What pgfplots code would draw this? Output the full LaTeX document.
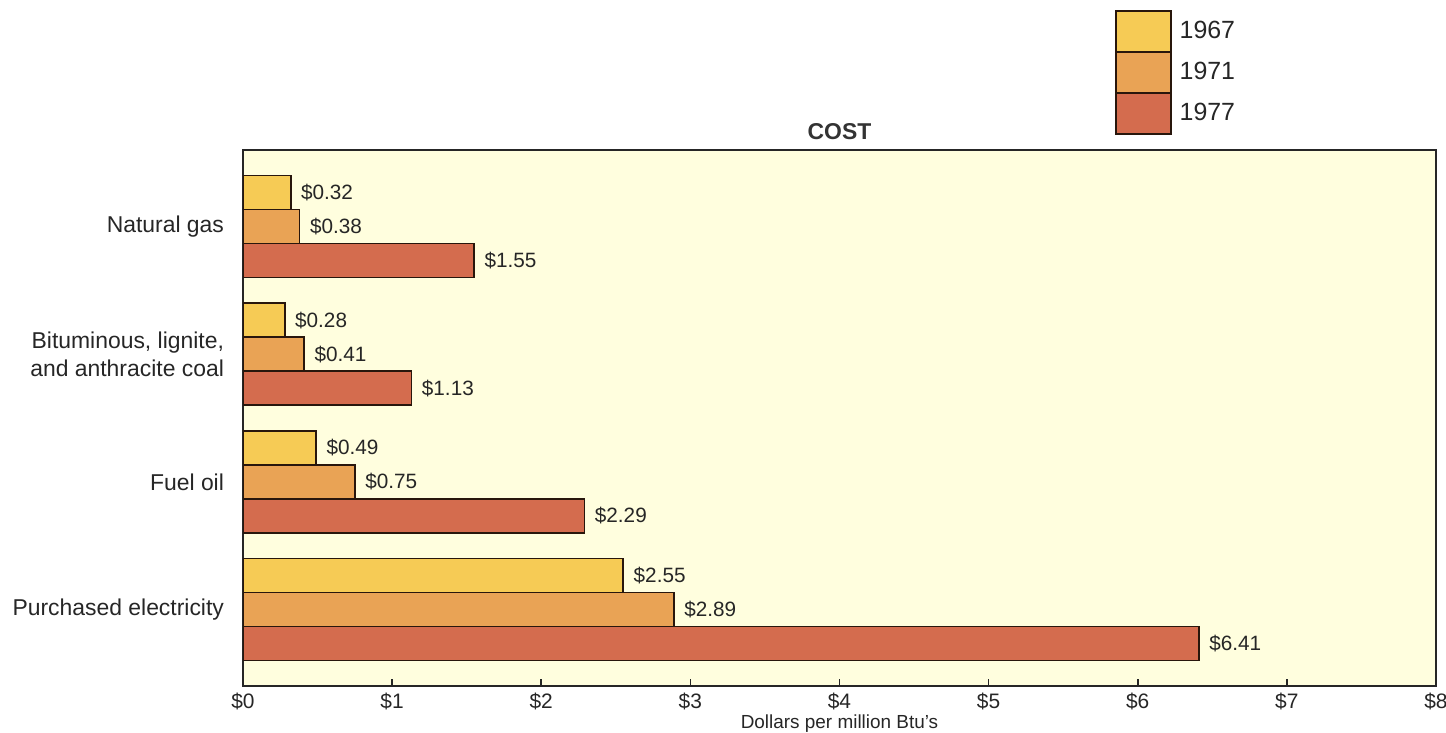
\documentclass[border=0pt]{standalone}
\usepackage{fontspec}
\setmainfont{Liberation Sans}
\usepackage{pgfplots}
\pgfplotsset{compat=1.18}
\definecolor{bgc}{RGB}{255,254,222}
\definecolor{c67}{RGB}{246,203,85}
\definecolor{c71}{RGB}{233,163,85}
\definecolor{c77}{RGB}{212,108,78}
\definecolor{edge}{RGB}{40,22,12}
\begin{document}
\begin{tikzpicture}
\begin{axis}[
  at={(121.5bp,23.5bp)}, anchor=south west,
  scale only axis, width=596.5bp, height=268bp,
  xbar=0pt, bar width=17bp,
  xmin=0, xmax=8, ymin=-0.6, ymax=3.6, y dir=reverse,
  axis background/.style={fill=bgc},
  axis line style={draw=black!85, line width=0.8bp},
  xtick={0,1,2,3,4,5,6,7,8},
  xticklabels={\$0,\$1,\$2,\$3,\$4,\$5,\$6,\$7,\$8},
  xtick pos=left, tick align=inside, major tick length=3.5bp,
  xtick style={draw=black!85, line width=0.8bp},
  xticklabel style={font=\fontsize{10.5}{12}\selectfont, text=black!85},
  ytick={0,1,2,3},
  yticklabels={Natural gas,{Bituminous, lignite,\\and anthracite coal},Fuel oil,Purchased electricity},
  ytick style={draw=none},
  yticklabel style={align=right, font=\fontsize{11.5}{14}\selectfont, text=black!85, xshift=-6bp},
  nodes near coords={\$\pgfmathprintnumber[fixed,fixed zerofill,precision=2,assume math mode=true]{\pgfplotspointmeta}},
  nodes near coords align={horizontal},
  every node near coord/.append style={font=\fontsize{10.4}{12}\selectfont, text=black!85, xshift=1.5bp},
  title={COST},
  title style={at={(axis description cs:0.5,1)}, anchor=base, yshift=-0.5bp, font=\fontsize{11.5}{13}\selectfont\bfseries, text=black!80},
  xlabel={Dollars per million Btu's},
  xlabel style={at={(axis description cs:0.5,0)}, anchor=base, yshift=-21bp, font=\fontsize{9.5}{11}\selectfont, text=black!85},
  legend style={at={(axis description cs:0.731,1)}, anchor=north west, yshift=70bp,
    draw=none, fill=none, inner sep=0pt, outer sep=0pt, row sep=-0.8bp,
    font=\fontsize{12.5}{14}\selectfont, text=black!85,
    nodes={inner sep=4bp}},
  legend cell align=left,
  legend image code/.code={\draw[#1] (0bp,-10.25bp) rectangle (27.5bp,10.25bp);},
]
\addplot[fill=c67, draw=edge, line width=0.8bp, bar shift=17bp] coordinates {(0.32,0) (0.28,1) (0.49,2) (2.55,3)};
\addplot[fill=c71, draw=edge, line width=0.8bp, bar shift=0bp] coordinates {(0.38,0) (0.41,1) (0.75,2) (2.89,3)};
\addplot[fill=c77, draw=edge, line width=0.8bp, bar shift=-17bp] coordinates {(1.55,0) (1.13,1) (2.29,2) (6.41,3)};
\legend{1967,1971,1977}
\end{axis}
\pgfresetboundingbox
\path[use as bounding box] (0,0) rectangle (723bp,366.5bp);
\end{tikzpicture}
\end{document}
